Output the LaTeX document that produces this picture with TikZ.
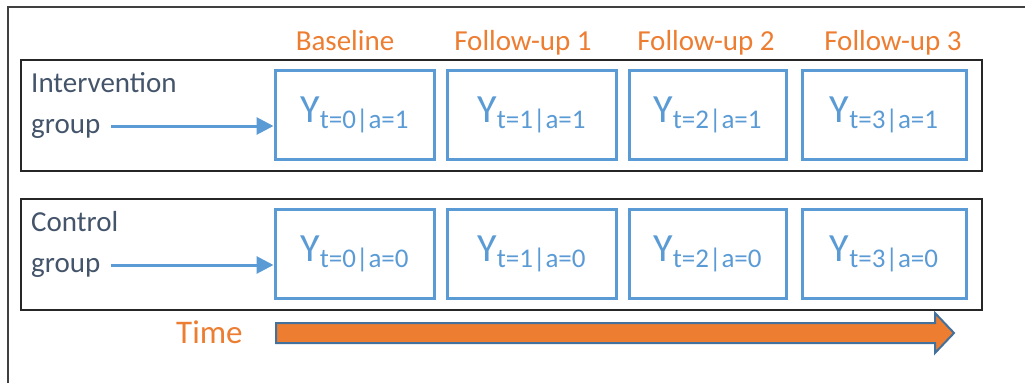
\documentclass[tikz,border=0pt]{standalone}
\usepackage{fontspec}
\setmainfont{Carlito}
\usepackage{xcolor}
\usepackage{tikz}
\usetikzlibrary{arrows.meta,positioning}
\definecolor{boxblue}{HTML}{5B9BD5}
\definecolor{headorange}{HTML}{ED7D31}
\definecolor{edgeblue}{HTML}{41719C}
\definecolor{slate}{HTML}{44546A}
\tikzset{ybox/.style={rectangle,draw=boxblue,line width=3pt,minimum height=89pt,text=boxblue,inner sep=0pt},
  grp/.style={rectangle,draw=black!85,line width=1.5pt,minimum width=961pt,minimum height=111pt},
  head/.style={text=headorange,font=\fontsize{29}{29}\selectfont,anchor=base},
  lbl/.style={text=slate,font=\fontsize{29}{41}\selectfont,align=left,anchor=north west,inner sep=0pt},
  link/.style={draw=boxblue,line width=3pt,-{Triangle[length=17pt,width=17pt]}}}
\newcommand{\yval}[2]{{\fontsize{40}{40}\selectfont Y}\raisebox{-6pt}{\fontsize{27}{27}\selectfont t=#1|a=#2}}

\begin{document}
\begin{tikzpicture}[x=1pt,y=-1pt]
    \useasboundingbox (0,0) rectangle (1025,383);
    \draw [black!75,line width=1.6pt] (8,383) -- (8,7) -- (1025,7);

    \node[grp] (ibox)at (501.5,115.5) {};
    \node[grp] (cbox)at (501.5,254.5) {};

    \node[head] (h0)at (345,50) {Baseline};
    \node[head] (h1)at (523,50) {Follow-up 1};
    \node[head] (h2)at (706,50) {Follow-up 2};
    \node[head] (h3)at (893,50) {Follow-up 3};

    \node[ybox,minimum width=159pt] (i0)at (354.5,114.5) {\yval{0}{1}};
    \node[ybox,minimum width=169pt] (i1)at (531.5,114.5) {\yval{1}{1}};
    \node[ybox,minimum width=157pt] (i2)at (707.5,114.5) {\yval{2}{1}};
    \node[ybox,minimum width=164pt] (i3)at (884,114.5) {\yval{3}{1}};
    \node[ybox,minimum width=159pt] (c0)at (354.5,253.5) {\yval{0}{0}};
    \node[ybox,minimum width=169pt] (c1)at (531.5,253.5) {\yval{1}{0}};
    \node[ybox,minimum width=157pt] (c2)at (707.5,253.5) {\yval{2}{0}};
    \node[ybox,minimum width=164pt] (c3)at (884,253.5) {\yval{3}{0}};

    \node[lbl] (ilbl)at (31,72) {Intervention\\group};
    \node[lbl] (clbl)at (31,211) {Control\\group};
    \coordinate (istart) at (111,126);
    \coordinate (cstart) at (111,265);

    \draw [link] (istart) to (istart -| i0.west);
    \draw [link] (cstart) to (cstart -| c0.west);

    \node[text=headorange,font=\fontsize{33}{33}\selectfont,anchor=base west,inner sep=0pt] (time)at (176,343) {Time};
    \draw [draw=edgeblue,fill=headorange,line width=2pt,line join=miter]
      (276,323) -- (935,323) -- (935,313) -- (954,333) -- (935,353) -- (935,343) -- (276,343) -- cycle;
\end{tikzpicture}
\end{document}
